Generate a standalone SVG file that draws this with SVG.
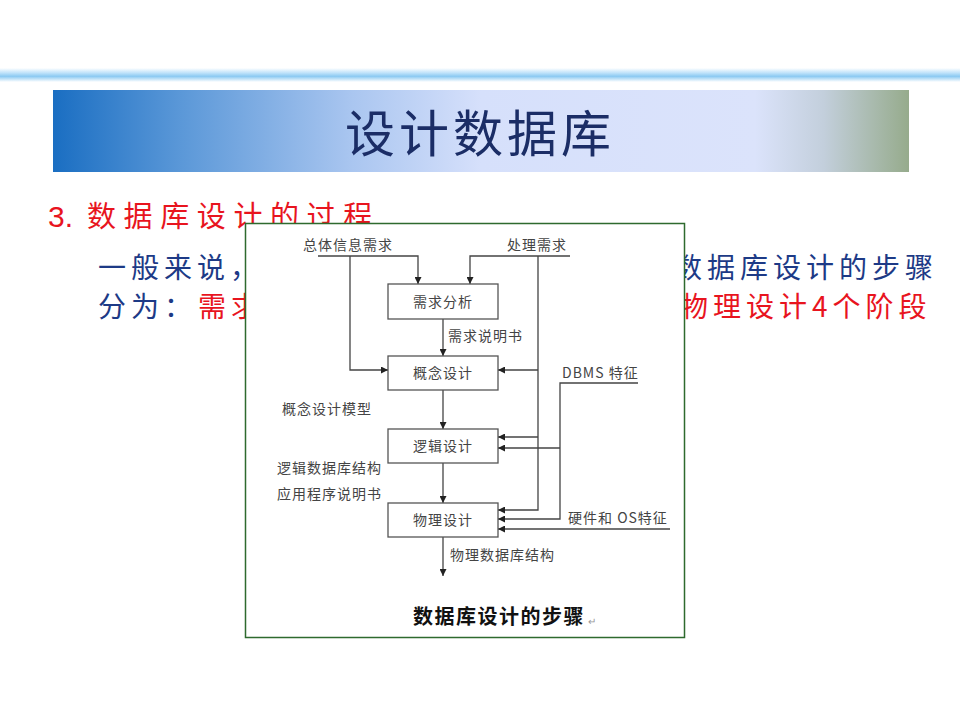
<svg xmlns="http://www.w3.org/2000/svg" width="960" height="720" viewBox="0 0 960 720">
<defs>
<linearGradient id="band" x1="0" y1="0" x2="0" y2="1">
<stop offset="0" stop-color="#ffffff"/>
<stop offset="0.35" stop-color="#bfe2fa"/>
<stop offset="0.6" stop-color="#8ccaf2"/>
<stop offset="1" stop-color="#ffffff"/>
</linearGradient>
<linearGradient id="head" x1="0" y1="0" x2="1" y2="0">
<stop offset="0" stop-color="#1a6ec2"/>
<stop offset="0.15" stop-color="#5b98d8"/>
<stop offset="0.35" stop-color="#aac6f0"/>
<stop offset="0.5" stop-color="#d6e0fb"/>
<stop offset="0.82" stop-color="#dbe3fb"/>
<stop offset="0.9" stop-color="#c3cfdc"/>
<stop offset="1" stop-color="#96ab8c"/>
</linearGradient>
<marker id="arr" viewBox="0 0 10 10" refX="10" refY="5" markerWidth="7" markerHeight="7" markerUnits="userSpaceOnUse" orient="auto">
<path d="M0,0 L10,5 L0,10 z" fill="#222"/>
</marker>
<style>
.cj{font-family:"Noto Sans CJK SC","Liberation Sans",sans-serif}
.nv{fill:#1d3a86}
.rd{fill:#e8141e}
.dl{font-family:"Noto Sans CJK SC","Liberation Sans",sans-serif;font-size:14px;letter-spacing:1px;fill:#444}
.bx{fill:#fff;stroke:#555;stroke-width:1.3}
.cn{fill:none;stroke:#444;stroke-width:1.3}
.ca{fill:none;stroke:#444;stroke-width:1.3;marker-end:url(#arr)}
</style>
</defs>
<rect width="960" height="720" fill="#fff"/>
<rect x="0" y="68" width="960" height="14" fill="url(#band)"/>
<rect x="53" y="90" width="856" height="82" fill="url(#head)"/>
<text x="480" y="152" text-anchor="middle" class="cj" font-size="50" fill="#1b2d66" letter-spacing="4">设计数据库</text>

<text x="48" y="227" class="rd" font-family="Liberation Sans,sans-serif" font-size="30">3.</text>
<text x="87" y="227" class="cj rd" font-size="29" letter-spacing="7.6">数据库设计的过程</text>
<text x="98" y="278" class="cj nv" font-size="28" letter-spacing="5">一般来说，</text>
<text x="98" y="317" class="cj nv" font-size="28" letter-spacing="5">分为：</text>
<text x="198" y="317" class="cj rd" font-size="28" letter-spacing="5">需求</text>
<text x="674" y="278" class="cj nv" font-size="28" letter-spacing="5">数据库设计的步骤</text>
<text x="680" y="317" class="cj rd" font-size="28" letter-spacing="5">物理设计4个阶段</text>

<g id="figure">
<rect x="245.5" y="223.5" width="439" height="414" fill="#fff" stroke="#2e6a2e" stroke-width="1.5"/>
</g>

<g id="connectors">
<path class="ca" d="M318,256 H418 V284"/>
<path class="ca" d="M350,256 V370 H388"/>
<path class="ca" d="M570,256 H470 V284"/>
<path class="ca" d="M538,256 V510 H498"/>
<path class="ca" d="M538,370 H498"/>
<path class="ca" d="M538,437 H498"/>
<path class="ca" d="M443,319 V356"/>
<path class="ca" d="M443,390 V429"/>
<path class="ca" d="M443,463 V503"/>
<path class="ca" d="M443,537 V576"/>
<path class="ca" d="M638,383 H560 V519 H498"/>
<path class="ca" d="M560,448 H498"/>
<path class="ca" d="M670,529 H498"/>
</g>

<g id="n-req"><rect class="bx" x="388" y="284" width="110" height="35"/><text class="dl" x="443" y="307" text-anchor="middle">需求分析</text></g>
<g id="n-con"><rect class="bx" x="388" y="356" width="110" height="34"/><text class="dl" x="443" y="378" text-anchor="middle">概念设计</text></g>
<g id="n-log"><rect class="bx" x="388" y="429" width="110" height="34"/><text class="dl" x="443" y="451" text-anchor="middle">逻辑设计</text></g>
<g id="n-phy"><rect class="bx" x="388" y="503" width="110" height="34"/><text class="dl" x="443" y="525" text-anchor="middle">物理设计</text></g>

<g id="labels">
<text class="dl" x="303" y="250">总体信息需求</text>
<text class="dl" x="507" y="250">处理需求</text>
<text class="dl" x="448" y="341">需求说明书</text>
<text class="dl" x="562" y="378" font-family="Liberation Serif,serif" letter-spacing="0.5">DBMS <tspan class="cj">特征</tspan></text>
<text class="dl" x="282" y="414">概念设计模型</text>
<text class="dl" x="277" y="473">逻辑数据库结构</text>
<text class="dl" x="277" y="499">应用程序说明书</text>
<text class="dl" x="568" y="523" letter-spacing="0.3">硬件和 OS特征</text>
<text class="dl" x="450" y="560">物理数据库结构</text>
<text x="413" y="624" class="cj" font-size="20" font-weight="bold" letter-spacing="1.5" fill="#111">数据库设计的步骤</text>
<text x="588" y="625" class="cj" font-size="10" fill="#999">↵</text>
</g>
</svg>
